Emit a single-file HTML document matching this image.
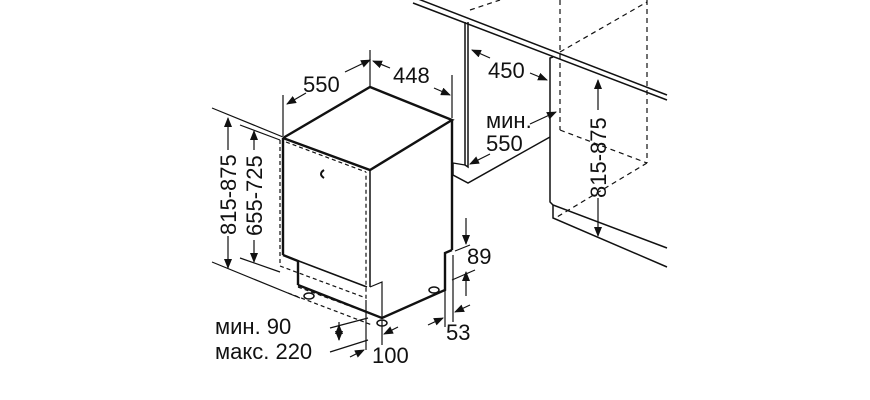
<!DOCTYPE html>
<html><head><meta charset="utf-8"><style>
html,body{margin:0;padding:0;background:#fff}
svg{display:block}
text{font-family:"Liberation Sans",sans-serif;font-size:22px;fill:#111}
</style></head><body>
<svg width="870" height="400" viewBox="0 0 870 400" xmlns="http://www.w3.org/2000/svg">
<defs><marker id="a" markerWidth="10" markerHeight="8" refX="9" refY="4" orient="auto" markerUnits="userSpaceOnUse"><path d="M0,0 L10,4 L0,8 z" fill="#111"/></marker></defs>
<g stroke="#111" fill="none" stroke-width="1.2">
<g stroke-width="2.4">
<polyline points="283,138 370,87 452,120 370,170 283,138"/>
<line x1="283" y1="138" x2="283" y2="255"/>
<line x1="452" y1="120" x2="452" y2="250"/>
<polyline points="283,255 298,261 298,285"/>
<polyline points="452,250 445,253 445,290 382,318 298,285"/>
</g>
<line x1="370" y1="170" x2="370" y2="287" stroke-width="1.5"/>
<line x1="283" y1="255" x2="367" y2="287" stroke-width="1.5"/>
<g stroke-dasharray="4,3">
<polyline points="280,140 280,266 366,298 366,172"/>
<line x1="286" y1="142" x2="366" y2="172"/>
<line x1="298" y1="287" x2="366" y2="312"/>
<line x1="288" y1="293" x2="372" y2="325"/>
</g>
<polyline points="370,287 382,282 382,318"/>
<path d="M324,170 q-6,4 0,8" stroke-width="2"/>
<g fill="#fff" stroke-width="1.5">
<ellipse cx="309" cy="296" rx="5" ry="3"/><ellipse cx="382" cy="323" rx="5" ry="3"/><ellipse cx="434" cy="290" rx="5" ry="3"/>
</g>
<line x1="212" y1="108" x2="283" y2="137"/>
<line x1="212" y1="262" x2="300" y2="298"/>
<line x1="240" y1="125" x2="280" y2="140"/>
<line x1="240" y1="258" x2="280" y2="272"/>
<line x1="228" y1="150" x2="228" y2="118" marker-end="url(#a)"/>
<line x1="228" y1="236" x2="228" y2="268" marker-end="url(#a)"/>
<line x1="254" y1="150" x2="254" y2="131" marker-end="url(#a)"/>
<line x1="254" y1="240" x2="254" y2="262" marker-end="url(#a)"/>
<line x1="283" y1="95" x2="283" y2="136"/>
<line x1="370" y1="50" x2="370" y2="86"/>
<line x1="452" y1="75" x2="452" y2="118"/>
<line x1="345" y1="72" x2="370" y2="60" marker-end="url(#a)"/>
<line x1="306" y1="93" x2="287" y2="104" marker-end="url(#a)"/>
<line x1="390" y1="68" x2="373" y2="61" marker-end="url(#a)"/>
<line x1="434" y1="88" x2="450" y2="95" marker-end="url(#a)"/>
<line x1="455" y1="251" x2="470" y2="245"/>
<line x1="452" y1="280" x2="475" y2="270"/>
<line x1="466" y1="218" x2="466" y2="244" marker-end="url(#a)"/>
<line x1="466" y1="296" x2="466" y2="272" marker-end="url(#a)"/>
<line x1="445" y1="255" x2="445" y2="327"/>
<line x1="453" y1="255" x2="453" y2="322"/>
<line x1="428" y1="325" x2="443" y2="318" marker-end="url(#a)"/>
<line x1="470" y1="305" x2="455" y2="312" marker-end="url(#a)"/>
<line x1="382" y1="320" x2="382" y2="345"/>
<line x1="366" y1="300" x2="366" y2="350"/>
<line x1="330" y1="328" x2="368" y2="318"/>
<line x1="330" y1="352" x2="368" y2="340"/>
<line x1="339" y1="322" x2="339" y2="340" marker-end="url(#a)"/>
<line x1="339" y1="340" x2="339" y2="325" marker-end="url(#a)"/>
<line x1="350" y1="357" x2="364" y2="350" marker-end="url(#a)"/>
<line x1="398" y1="327" x2="384" y2="334" marker-end="url(#a)"/>
<line x1="413" y1="3" x2="667" y2="100" stroke-width="1.5"/>
<line x1="413" y1="-3" x2="667" y2="95" stroke-width="1.5"/>
<polyline points="465,22 465,165 468,167 468,22" stroke-width="1.5"/>
<polyline points="453,163 453,175 468,183 550,137" stroke-width="1.5"/>
<line x1="453" y1="163" x2="465" y2="165"/>
<polyline points="553,57 550,58 550,202 553,205 667,248" stroke-width="1.5"/>
<polyline points="553,205 553,218 667,267" stroke-width="1.5"/>
<g stroke-dasharray="5,4">
<line x1="560" y1="0" x2="560" y2="130"/>
<line x1="647" y1="0" x2="647" y2="163"/>
<line x1="560" y1="52" x2="647" y2="2"/>
<line x1="560" y1="130" x2="647" y2="163"/>
<line x1="647" y1="163" x2="557" y2="217"/>
<line x1="470" y1="10" x2="500" y2="0"/>
</g>
<line x1="490" y1="58" x2="472" y2="50" marker-end="url(#a)"/>
<line x1="530" y1="73" x2="547" y2="80" marker-end="url(#a)"/>
<line x1="530" y1="124" x2="556" y2="112" marker-end="url(#a)"/>
<line x1="490" y1="154" x2="470" y2="164" marker-end="url(#a)"/>
<line x1="598" y1="110" x2="598" y2="80" marker-end="url(#a)"/>
<line x1="598" y1="198" x2="598" y2="236" marker-end="url(#a)"/>
</g>
<text x="303" y="92">550</text>
<text x="393" y="83">448</text>
<text x="488" y="78">450</text>
<text x="486" y="128">мин.</text>
<text x="486" y="151">550</text>
<text x="467" y="264">89</text>
<text x="446" y="340">53</text>
<text x="372" y="363">100</text>
<text x="215" y="334">мин. 90</text>
<text x="215" y="359">макс. 220</text>
<text transform="translate(236,235) rotate(-90)">815-875</text>
<text transform="translate(262,236) rotate(-90)">655-725</text>
<text transform="translate(606,198) rotate(-90)">815-875</text>
</svg>
</body></html>
